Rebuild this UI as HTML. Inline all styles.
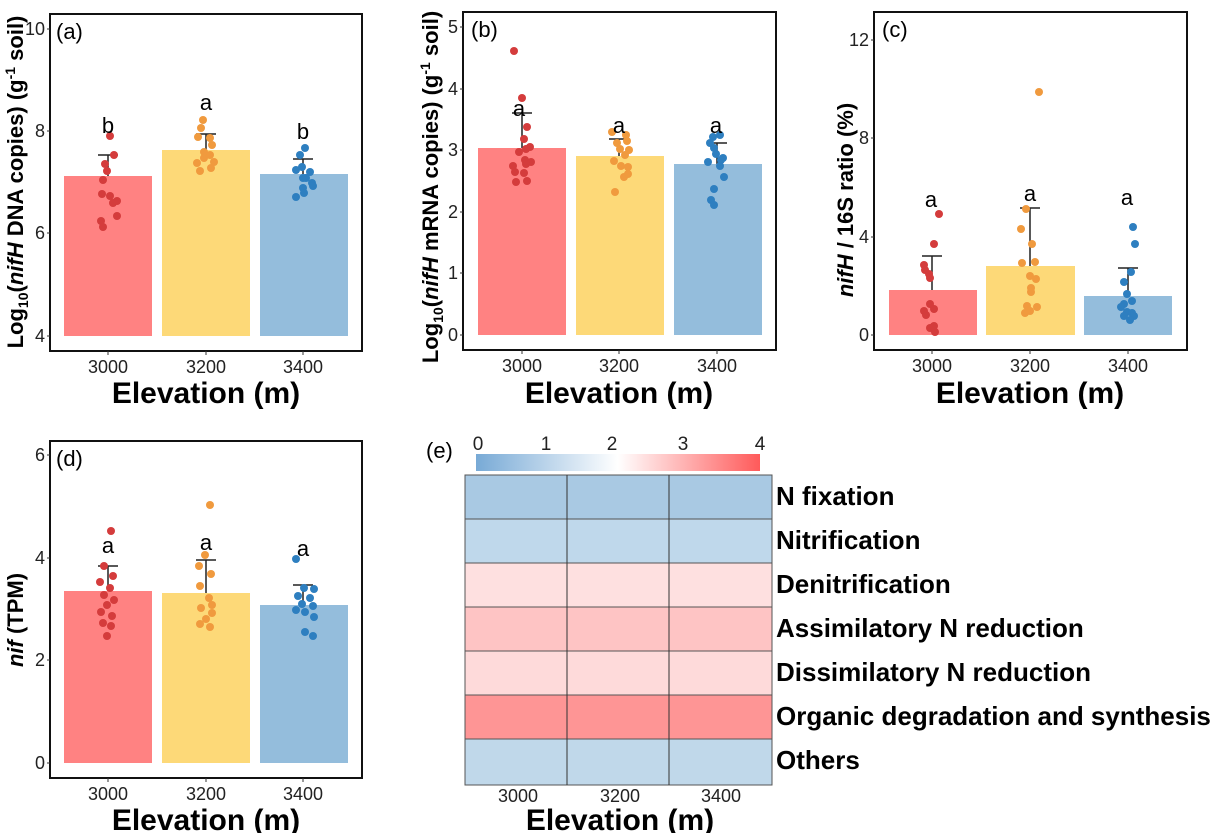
<!DOCTYPE html>
<html><head><meta charset="utf-8"><style>
body{margin:0;background:#fff}
svg text{font-family:"Liberation Sans",Arial,sans-serif}
.t{font-size:18px;fill:#222}
.xl{font-size:30px;font-weight:bold}
.yl{font-size:22px;font-weight:bold}
.lt{font-size:22px}
.rl{font-size:26px;font-weight:bold}
</style></head><body>
<svg width="1213" height="833" viewBox="0 0 1213 833" xmlns="http://www.w3.org/2000/svg">
<!-- Panel a -->
<rect x="50" y="14" width="312" height="337" fill="none" stroke="#111" stroke-width="2"/>
<g class="t" text-anchor="end"><text x="45" y="35">10</text><text x="45" y="137">8</text><text x="45" y="239">6</text><text x="45" y="342">4</text></g>
<g stroke="#333"><line x1="47" y1="29" x2="50" y2="29"/><line x1="47" y1="131" x2="50" y2="131"/><line x1="47" y1="233" x2="50" y2="233"/><line x1="47" y1="336" x2="50" y2="336"/><line x1="108" y1="351" x2="108" y2="355"/><line x1="206" y1="351" x2="206" y2="355"/><line x1="303" y1="351" x2="303" y2="355"/></g>
<rect x="64" y="176" width="88" height="160" fill="#ff8282"/>
<rect x="162" y="150" width="88" height="186" fill="#fdd978"/>
<rect x="260" y="174" width="88" height="162" fill="#94bddc"/>
<g stroke="#222" stroke-width="1.5"><path d="M108 176V155M98 155H118M206 150V134M196 134H216M303 174V159M293 159H313"/></g>
<g fill="#d43c3c"><circle cx="110" cy="136" r="4"/><circle cx="114" cy="155" r="4"/><circle cx="105" cy="164" r="4"/><circle cx="107" cy="171" r="4"/><circle cx="103" cy="180" r="4"/><circle cx="102" cy="194" r="4"/><circle cx="110" cy="196" r="4"/><circle cx="113" cy="203" r="4"/><circle cx="117" cy="201" r="4"/><circle cx="117" cy="216" r="4"/><circle cx="101" cy="221" r="4"/><circle cx="103" cy="227" r="4"/></g>
<g fill="#f09a3e"><circle cx="203" cy="120" r="4"/><circle cx="201" cy="128" r="4"/><circle cx="198" cy="137" r="4"/><circle cx="210" cy="138" r="4"/><circle cx="212" cy="145" r="4"/><circle cx="204" cy="152" r="4"/><circle cx="210" cy="155" r="4"/><circle cx="197" cy="163" r="4"/><circle cx="214" cy="162" r="4"/><circle cx="200" cy="171" r="4"/><circle cx="211" cy="168" r="4"/><circle cx="204" cy="158" r="4"/></g>
<g fill="#2e7fc0"><circle cx="305" cy="148" r="4"/><circle cx="300" cy="155" r="4"/><circle cx="302" cy="167" r="4"/><circle cx="296" cy="170" r="4"/><circle cx="310" cy="172" r="4"/><circle cx="306" cy="178" r="4"/><circle cx="303" cy="178" r="4"/><circle cx="312" cy="183" r="4"/><circle cx="303" cy="188" r="4"/><circle cx="313" cy="186" r="4"/><circle cx="304" cy="193" r="4"/><circle cx="296" cy="197" r="4"/></g>
<g class="lt" text-anchor="middle"><text x="108" y="133">b</text><text x="206" y="110">a</text><text x="303" y="139">b</text></g>
<text x="56" y="39" class="lt">(a)</text>
<g class="t" text-anchor="middle"><text x="108" y="373">3000</text><text x="206" y="373">3200</text><text x="303" y="373">3400</text></g>
<text x="206" y="403" class="xl" text-anchor="middle">Elevation (m)</text>
<text transform="translate(23,182) rotate(-90)" class="yl" text-anchor="middle">Log<tspan font-size="14" dy="5">10</tspan><tspan dy="-5">(</tspan><tspan font-style="italic">nifH</tspan> DNA copies) (g<tspan font-size="14" dy="-8">-1</tspan><tspan dy="8"> soil)</tspan></text>

<!-- Panel b -->
<rect x="463" y="12" width="313" height="338" fill="none" stroke="#111" stroke-width="2"/>
<g class="t" text-anchor="end"><text x="458" y="33">5</text><text x="458" y="95">4</text><text x="458" y="156">3</text><text x="458" y="218">2</text><text x="458" y="279">1</text><text x="458" y="341">0</text></g>
<g stroke="#333"><path d="M460 27H463M460 89H463M460 150H463M460 212H463M460 273H463M460 335H463M522 350V354M619 350V354M717 350V354"/></g>
<rect x="478" y="148" width="88" height="187" fill="#ff8282"/>
<rect x="576" y="156" width="88" height="179" fill="#fdd978"/>
<rect x="674" y="164" width="88" height="171" fill="#94bddc"/>
<g stroke="#222" stroke-width="1.5"><path d="M522 148V113M512 113H532M619 156V139M609 139H629M717 164V143M707 143H727"/></g>
<g fill="#d43c3c"><circle cx="514" cy="51" r="4"/><circle cx="522" cy="98" r="4"/><circle cx="527" cy="127" r="4"/><circle cx="524" cy="139" r="4"/><circle cx="530" cy="147" r="4"/><circle cx="526" cy="149" r="4"/><circle cx="519" cy="152" r="4"/><circle cx="525" cy="160" r="4"/><circle cx="531" cy="162" r="4"/><circle cx="526" cy="164" r="4"/><circle cx="513" cy="166" r="4"/><circle cx="515" cy="172" r="4"/><circle cx="524" cy="173" r="4"/><circle cx="516" cy="182" r="4"/><circle cx="527" cy="181" r="4"/></g>
<g fill="#f09a3e"><circle cx="612" cy="132" r="4"/><circle cx="626" cy="135" r="4"/><circle cx="617" cy="143" r="4"/><circle cx="627" cy="141" r="4"/><circle cx="620" cy="149" r="4"/><circle cx="629" cy="150" r="4"/><circle cx="625" cy="155" r="4"/><circle cx="614" cy="161" r="4"/><circle cx="621" cy="166" r="4"/><circle cx="628" cy="167" r="4"/><circle cx="628" cy="174" r="4"/><circle cx="624" cy="177" r="4"/><circle cx="615" cy="192" r="4"/></g>
<g fill="#2e7fc0"><circle cx="713" cy="137" r="4"/><circle cx="720" cy="135" r="4"/><circle cx="710" cy="143" r="4"/><circle cx="714" cy="148" r="4"/><circle cx="716" cy="154" r="4"/><circle cx="723" cy="158" r="4"/><circle cx="721" cy="160" r="4"/><circle cx="708" cy="162" r="4"/><circle cx="720" cy="166" r="4"/><circle cx="724" cy="177" r="4"/><circle cx="714" cy="189" r="4"/><circle cx="711" cy="200" r="4"/><circle cx="714" cy="205" r="4"/></g>
<g class="lt" text-anchor="middle"><text x="519" y="116">a</text><text x="619" y="133">a</text><text x="716" y="133">a</text></g>
<text x="471" y="37" class="lt">(b)</text>
<g class="t" text-anchor="middle"><text x="522" y="372">3000</text><text x="619" y="372">3200</text><text x="717" y="372">3400</text></g>
<text x="619" y="403" class="xl" text-anchor="middle">Elevation (m)</text>
<text transform="translate(438,187) rotate(-90)" class="yl" text-anchor="middle">Log<tspan font-size="14" dy="5">10</tspan><tspan dy="-5">(</tspan><tspan font-style="italic">nifH</tspan> mRNA copies) (g<tspan font-size="14" dy="-8">-1</tspan><tspan dy="8"> soil)</tspan></text>

<!-- Panel c -->
<rect x="874" y="12" width="313" height="338" fill="none" stroke="#111" stroke-width="2"/>
<g class="t" text-anchor="end"><text x="869" y="46">12</text><text x="869" y="144">8</text><text x="869" y="243">4</text><text x="869" y="341">0</text></g>
<g stroke="#333"><path d="M871 40H874M871 138H874M871 237H874M871 335H874M932 350V354M1030 350V354M1128 350V354"/></g>
<rect x="889" y="290" width="88" height="45" fill="#ff8282"/>
<rect x="986" y="266" width="89" height="69" fill="#fdd978"/>
<rect x="1084" y="296" width="88" height="39" fill="#94bddc"/>
<g stroke="#222" stroke-width="1.5"><path d="M932 290V256M922 256H942M1030 266V208M1020 208H1040M1128 296V268M1118 268H1138"/></g>
<g fill="#d43c3c"><circle cx="939" cy="214" r="4"/><circle cx="934" cy="244" r="4"/><circle cx="924" cy="265" r="4"/><circle cx="925" cy="270" r="4"/><circle cx="929" cy="274" r="4"/><circle cx="930" cy="278" r="4"/><circle cx="930" cy="304" r="4"/><circle cx="934" cy="309" r="4"/><circle cx="924" cy="311" r="4"/><circle cx="926" cy="315" r="4"/><circle cx="930" cy="328" r="4"/><circle cx="934" cy="326" r="4"/><circle cx="935" cy="332" r="4"/></g>
<g fill="#f09a3e"><circle cx="1039" cy="92" r="4"/><circle cx="1026" cy="209" r="4"/><circle cx="1021" cy="229" r="4"/><circle cx="1032" cy="244" r="4"/><circle cx="1022" cy="263" r="4"/><circle cx="1035" cy="262" r="4"/><circle cx="1030" cy="276" r="4"/><circle cx="1036" cy="279" r="4"/><circle cx="1031" cy="288" r="4"/><circle cx="1031" cy="292" r="4"/><circle cx="1027" cy="306" r="4"/><circle cx="1037" cy="307" r="4"/><circle cx="1025" cy="313" r="4"/><circle cx="1030" cy="311" r="4"/></g>
<g fill="#2e7fc0"><circle cx="1133" cy="227" r="4"/><circle cx="1135" cy="244" r="4"/><circle cx="1131" cy="272" r="4"/><circle cx="1124" cy="282" r="4"/><circle cx="1127" cy="294" r="4"/><circle cx="1132" cy="301" r="4"/><circle cx="1124" cy="304" r="4"/><circle cx="1121" cy="307" r="4"/><circle cx="1127" cy="312" r="4"/><circle cx="1132" cy="313" r="4"/><circle cx="1124" cy="316" r="4"/><circle cx="1134" cy="316" r="4"/><circle cx="1130" cy="320" r="4"/></g>
<g class="lt" text-anchor="middle"><text x="931" y="207">a</text><text x="1030" y="201">a</text><text x="1127" y="205">a</text></g>
<text x="882" y="37" class="lt">(c)</text>
<g class="t" text-anchor="middle"><text x="932" y="372">3000</text><text x="1030" y="372">3200</text><text x="1128" y="372">3400</text></g>
<text x="1030" y="403" class="xl" text-anchor="middle">Elevation (m)</text>
<text transform="translate(853,200) rotate(-90)" class="yl" text-anchor="middle"><tspan font-style="italic">nifH</tspan> / 16S ratio (%)</text>

<!-- Panel d -->
<rect x="50" y="441" width="312" height="337" fill="none" stroke="#111" stroke-width="2"/>
<g class="t" text-anchor="end"><text x="45" y="461">6</text><text x="45" y="564">4</text><text x="45" y="666">2</text><text x="45" y="769">0</text></g>
<g stroke="#333"><path d="M47 455H50M47 558H50M47 660H50M47 763H50M108 778V782M206 778V782M303 778V782"/></g>
<rect x="64" y="591" width="88" height="172" fill="#ff8282"/>
<rect x="162" y="593" width="88" height="170" fill="#fdd978"/>
<rect x="260" y="605" width="88" height="158" fill="#94bddc"/>
<g stroke="#222" stroke-width="1.5"><path d="M108 591V566M98 566H118M206 593V560M196 560H216M303 605V585M293 585H313"/></g>
<g fill="#d43c3c"><circle cx="111" cy="531" r="4"/><circle cx="104" cy="566" r="4"/><circle cx="113" cy="576" r="4"/><circle cx="100" cy="582" r="4"/><circle cx="110" cy="588" r="4"/><circle cx="104" cy="595" r="4"/><circle cx="114" cy="600" r="4"/><circle cx="107" cy="605" r="4"/><circle cx="101" cy="612" r="4"/><circle cx="112" cy="616" r="4"/><circle cx="103" cy="623" r="4"/><circle cx="111" cy="626" r="4"/><circle cx="107" cy="636" r="4"/></g>
<g fill="#f09a3e"><circle cx="210" cy="505" r="4"/><circle cx="205" cy="555" r="4"/><circle cx="199" cy="566" r="4"/><circle cx="211" cy="574" r="4"/><circle cx="200" cy="586" r="4"/><circle cx="209" cy="598" r="4"/><circle cx="212" cy="605" r="4"/><circle cx="201" cy="608" r="4"/><circle cx="212" cy="613" r="4"/><circle cx="206" cy="619" r="4"/><circle cx="200" cy="624" r="4"/><circle cx="210" cy="627" r="4"/></g>
<g fill="#2e7fc0"><circle cx="296" cy="559" r="4"/><circle cx="304" cy="588" r="4"/><circle cx="314" cy="589" r="4"/><circle cx="298" cy="596" r="4"/><circle cx="310" cy="598" r="4"/><circle cx="302" cy="604" r="4"/><circle cx="313" cy="606" r="4"/><circle cx="296" cy="610" r="4"/><circle cx="305" cy="612" r="4"/><circle cx="314" cy="617" r="4"/><circle cx="305" cy="632" r="4"/><circle cx="313" cy="636" r="4"/></g>
<g class="lt" text-anchor="middle"><text x="108" y="553">a</text><text x="206" y="550">a</text><text x="303" y="556">a</text></g>
<text x="56" y="466" class="lt">(d)</text>
<g class="t" text-anchor="middle"><text x="108" y="800">3000</text><text x="206" y="800">3200</text><text x="303" y="800">3400</text></g>
<text x="206" y="830" class="xl" text-anchor="middle">Elevation (m)</text>
<text transform="translate(23,620) rotate(-90)" class="yl" text-anchor="middle"><tspan font-style="italic">nif</tspan> (TPM)</text>

<!-- Panel e -->
<defs><linearGradient id="cb" x1="0" x2="1"><stop offset="0" stop-color="#78aad6"/><stop offset="0.5" stop-color="#ffffff"/><stop offset="1" stop-color="#ff5a5a"/></linearGradient></defs>
<text x="426" y="458" class="lt">(e)</text>
<rect x="476" y="454" width="284" height="17" fill="url(#cb)"/>
<g class="t" text-anchor="middle" style="font-size:19px"><text x="478" y="450">0</text><text x="546" y="450">1</text><text x="612" y="450">2</text><text x="683" y="450">3</text><text x="760" y="450">4</text></g>
<g stroke="#555" stroke-width="1">
<rect x="465" y="475" width="307" height="44" fill="#a9c9e3"/>
<rect x="465" y="519" width="307" height="44" fill="#bfd8eb"/>
<rect x="465" y="563" width="307" height="44" fill="#fee0e0"/>
<rect x="465" y="607" width="307" height="44" fill="#fec4c4"/>
<rect x="465" y="651" width="307" height="44" fill="#fedada"/>
<rect x="465" y="695" width="307" height="44" fill="#fe9595"/>
<rect x="465" y="739" width="307" height="46" fill="#c0d8ea"/>
<path d="M567 475V785M669 475V785" stroke="#333"/>
</g>
<g class="rl"><text x="776" y="505">N fixation</text><text x="776" y="549">Nitrification</text><text x="776" y="593">Denitrification</text><text x="776" y="637">Assimilatory N reduction</text><text x="776" y="681">Dissimilatory N reduction</text><text x="776" y="725">Organic degradation and synthesis</text><text x="776" y="769">Others</text></g>
<g class="t" text-anchor="middle"><text x="518" y="802">3000</text><text x="620" y="802">3200</text><text x="721" y="802">3400</text></g>
<text x="620" y="830" class="xl" text-anchor="middle">Elevation (m)</text>
</svg>
</body></html>
